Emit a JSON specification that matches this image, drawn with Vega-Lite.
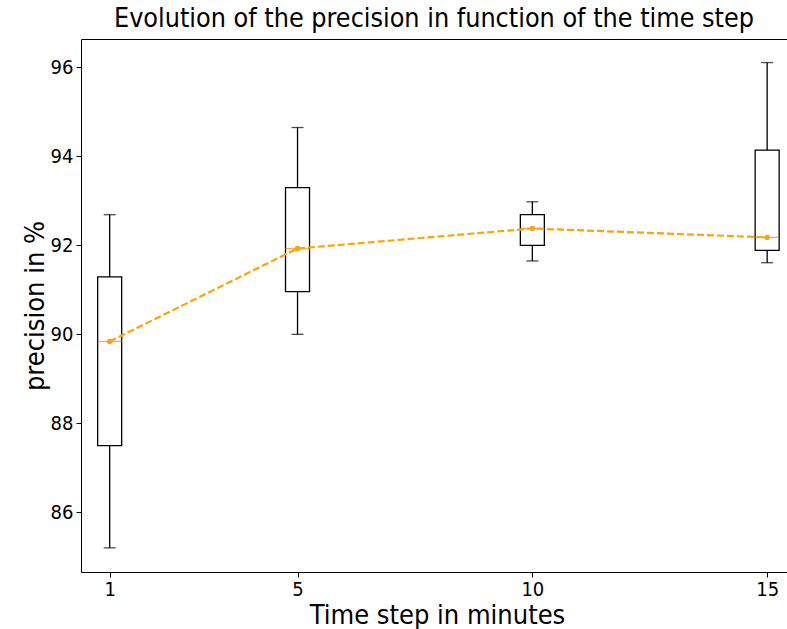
{
  "$schema": "https://vega.github.io/schema/vega-lite/v6.json",
  "autosize": {"type": "none"},
  "padding": {"left": 81, "top": 39, "right": 0, "bottom": 57},
  "width": 706,
  "height": 533,
  "background": "white",
  "config": {
    "font": "DejaVu Sans Condensed",
    "view": {"stroke": null},
    "axis": {
      "grid": false,
      "domainColor": "black",
      "domainWidth": 1,
      "tickColor": "black",
      "tickSize": 5,
      "labelFontSize": 20,
      "labelColor": "black",
      "titleFontSize": 27,
      "titleFontWeight": "normal",
      "titleColor": "black",
      "labelFont": "DejaVu Sans Condensed",
      "titleFont": "DejaVu Sans Condensed"
    }
  },
  "title": {"text": "Evolution of the precision in function of the time step", "fontSize": 26.7, "fontWeight": "normal", "font": "DejaVu Sans Condensed", "color": "black", "offset": 6},
  "data": {"values": [
    {"step": 1, "lo": 85.2, "q1": 87.5, "med": 89.84, "q3": 91.29, "hi": 92.69},
    {"step": 5, "lo": 90.0, "q1": 90.96, "med": 91.93, "q3": 93.3, "hi": 94.65},
    {"step": 10, "lo": 91.65, "q1": 92.0, "med": 92.38, "q3": 92.69, "hi": 92.98},
    {"step": 15, "lo": 91.61, "q1": 91.89, "med": 92.18, "q3": 94.14, "hi": 96.11}
  ]},
  "resolve": {"axis": {"x": "independent"}},
  "layer": [
    {"mark": {"type": "rule", "color": "black", "strokeWidth": 1.3},
     "encoding": {
       "x": {"field": "step", "type": "quantitative",
         "scale": {"domain": [0.496, 15.316], "nice": false, "zero": false},
         "axis": {"values": [1, 5, 10, 15], "title": "Time step in minutes", "titlePadding": 3, "labelPadding": 2, "titleX": 356, "titleAlign": "center"}},
       "y": {"field": "lo", "type": "quantitative",
         "scale": {"domain": [84.657, 96.64], "nice": false, "zero": false},
         "axis": {"values": [86, 88, 90, 92, 94, 96], "title": "precision in %", "titlePadding": 1, "labelPadding": 3}},
       "y2": {"field": "hi"}}},
    {"mark": {"type": "bar", "size": 24, "fill": "white", "stroke": "black", "strokeWidth": 1.3},
     "encoding": {
       "x": {"field": "step", "type": "quantitative",
         "axis": {"orient": "top", "labels": false, "ticks": false, "title": null}},
       "y": {"field": "q1", "type": "quantitative"}, "y2": {"field": "q3"}}},
    {"mark": {"type": "tick", "orient": "horizontal", "size": 12, "thickness": 1.3, "color": "black"},
     "encoding": {"x": {"field": "step", "type": "quantitative", "axis": null}, "y": {"field": "lo", "type": "quantitative"}}},
    {"mark": {"type": "tick", "orient": "horizontal", "size": 12, "thickness": 1.3, "color": "black"},
     "encoding": {"x": {"field": "step", "type": "quantitative", "axis": null}, "y": {"field": "hi", "type": "quantitative"}}},
    {"mark": {"type": "tick", "orient": "horizontal", "size": 24, "thickness": 1.3, "color": "#ff7f0e"},
     "encoding": {"x": {"field": "step", "type": "quantitative", "axis": null}, "y": {"field": "med", "type": "quantitative"}}},
    {"mark": {"type": "line", "color": "orange", "strokeWidth": 2.2, "strokeDash": [7, 3],
              "point": {"filled": true, "color": "orange", "size": 30}},
     "encoding": {"x": {"field": "step", "type": "quantitative", "axis": null}, "y": {"field": "med", "type": "quantitative"}}}
  ]
}
